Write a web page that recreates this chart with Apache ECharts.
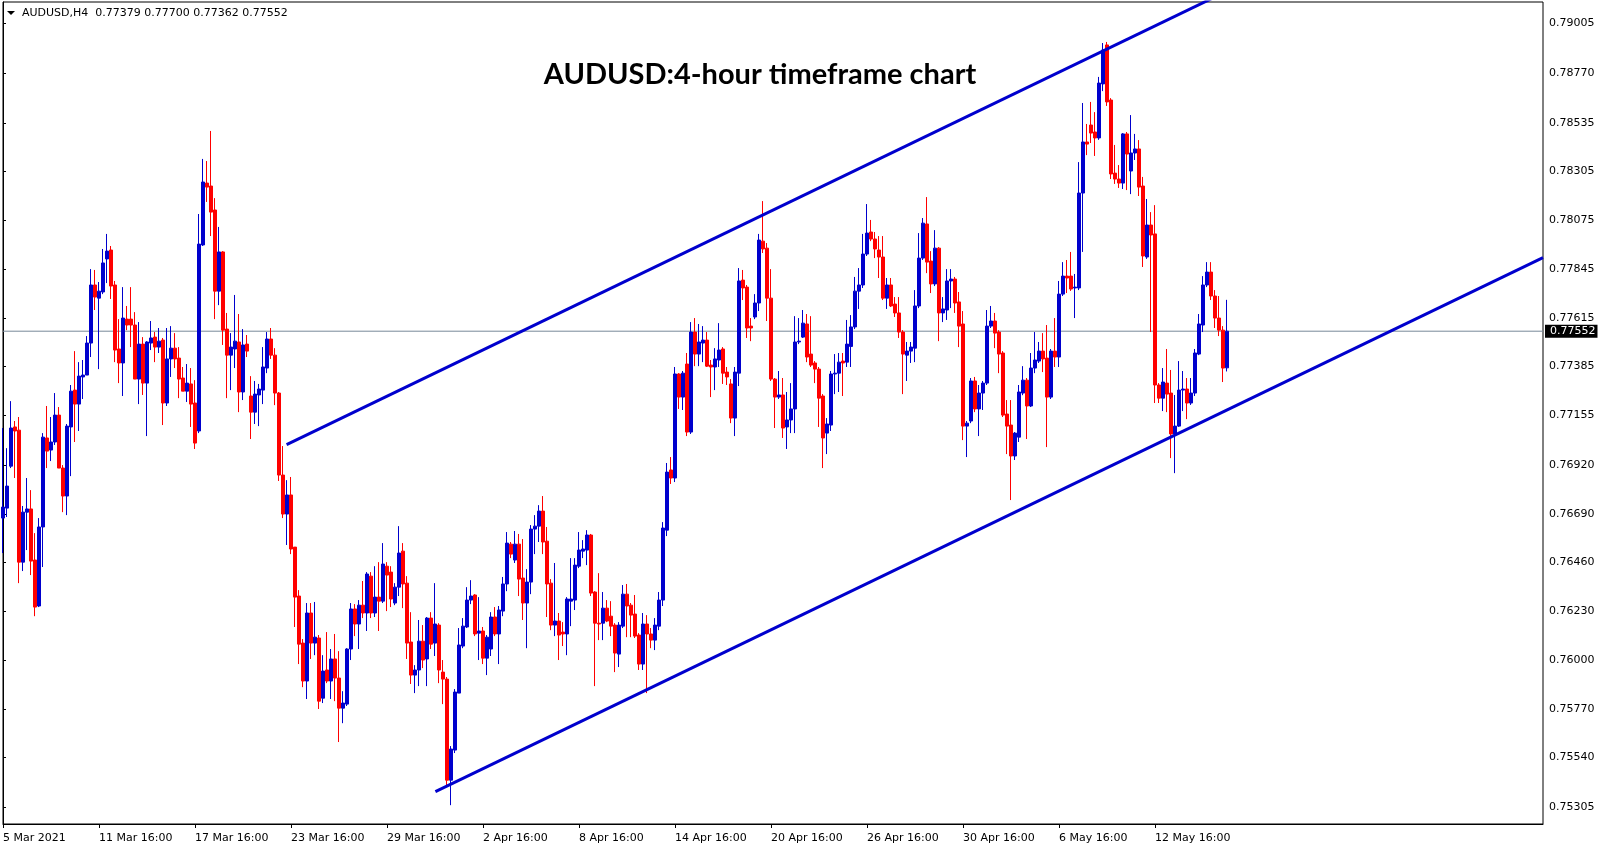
<!DOCTYPE html>
<html><head><meta charset="utf-8">
<script src="https://cdn.jsdelivr.net/npm/echarts@6/dist/echarts.min.js"></script>
<style>html,body{margin:0;padding:0;background:#fff;}#c{width:1607px;height:850px;}</style>
</head><body><div id="c"></div>
<script>
const symbolName = 'AUDUSD,H4';
const chartTitle = 'AUDUSD:4-hour timeframe chart';
const barSlots = 386;
const tickStep = 24;
const tickLabels = ['5 Mar 2021','11 Mar 16:00','17 Mar 16:00','23 Mar 16:00','29 Mar 16:00','2 Apr 16:00','8 Apr 16:00','14 Apr 16:00','20 Apr 16:00','26 Apr 16:00','30 Apr 16:00','6 May 16:00','12 May 16:00'];
const priceTicks = [0.75305,0.75540,0.75770,0.76000,0.76230,0.76460,0.76690,0.76920,0.77155,0.77385,0.77615,0.77845,0.78075,0.78305,0.78535,0.78770,0.79005];
const currentPrice = 0.77552;

const openP = [0.76670,0.76717,0.76915,0.77100,0.77085,0.76462,0.76698,0.76713,0.76472,0.76255,
0.76628,0.77048,0.76991,0.77029,0.77156,0.76906,0.76774,0.77100,0.77274,0.77208,
0.77336,0.77345,0.77496,0.77770,0.77708,0.77737,0.77893,0.77935,0.77770,0.77468,
0.77402,0.77609,0.77609,0.77581,0.77326,0.77491,0.77307,0.77496,0.77524,0.77477,
0.77510,0.77213,0.77421,0.77472,0.77425,0.77331,0.77269,0.77303,0.77213,0.77081,
0.77959,0.78251,0.78237,0.78124,0.77741,0.77926,0.77562,0.77439,0.77468,0.77501,
0.77265,0.77491,0.77246,0.77170,0.77251,0.77274,0.77378,0.77515,0.77439,0.77260,
0.76873,0.76689,0.76779,0.76533,0.76302,0.76080,0.75901,0.76222,0.76080,0.76104,
0.75820,0.75953,0.75901,0.76005,0.75915,0.75773,0.75792,0.76052,0.76241,0.76170,
0.76259,0.76222,0.76396,0.76222,0.76297,0.76278,0.76443,0.76415,0.76269,0.76344,
0.76514,0.76363,0.76085,0.75929,0.75953,0.76089,0.76005,0.76198,0.76080,0.76165,
0.75943,0.75910,0.75433,0.75575,0.75844,0.76066,0.76156,0.76283,0.76307,0.76127,
0.76137,0.76009,0.76052,0.76203,0.76123,0.76231,0.76359,0.76547,0.76472,0.76547,
0.76387,0.76269,0.76368,0.76618,0.76632,0.76703,0.76561,0.76363,0.76165,0.76184,
0.76132,0.76123,0.76278,0.76283,0.76443,0.76514,0.76519,0.76590,0.76321,0.76174,
0.76174,0.76245,0.76207,0.76165,0.76028,0.76160,0.76311,0.76259,0.76217,0.76118,
0.75981,0.76170,0.76123,0.76094,0.76160,0.76283,0.76613,0.76897,0.76859,0.77350,
0.77241,0.77397,0.77076,0.77548,0.77444,0.77496,0.77510,0.77392,0.77383,0.77416,
0.77468,0.77359,0.77303,0.77142,0.77354,0.77793,0.77760,0.77576,0.77619,0.77685,
0.77977,0.77944,0.77708,0.77326,0.77241,0.77251,0.77100,0.77133,0.77185,0.77501,
0.77524,0.77586,0.77444,0.77402,0.77373,0.77246,0.77071,0.77109,0.77350,0.77354,
0.77411,0.77406,0.77480,0.77572,0.77741,0.77770,0.77916,0.78020,0.77987,0.77935,
0.77902,0.77708,0.77770,0.77680,0.77638,0.77548,0.77439,0.77458,0.77472,0.77671,
0.77897,0.78058,0.77883,0.77775,0.77944,0.77638,0.77652,0.77789,0.77798,0.77690,
0.77586,0.77104,0.77128,0.77317,0.77185,0.77260,0.77307,0.77576,0.77600,0.77548,
0.77449,0.77161,0.77109,0.76963,0.77052,0.77260,0.77321,0.77199,0.77378,0.77411,
0.77458,0.77425,0.77241,0.77458,0.77430,0.77727,0.77812,0.77812,0.77756,0.77756,
0.78204,0.78445,0.78525,0.78492,0.78464,0.78719,0.78903,0.78643,0.78298,0.78270,
0.78251,0.78483,0.78308,0.78393,0.78412,0.78237,0.77902,0.78053,0.78011,0.77298,
0.77236,0.77307,0.77260,0.77067,0.77104,0.77274,0.77279,0.77213,0.77260,0.77444,
0.77581,0.77770,0.77831,0.77718,0.77614,0.77557,0.77379];

const closeP = [0.76722,0.76821,0.77095,0.77081,0.76462,0.76698,0.76713,0.76467,0.76250,0.76628,
0.77052,0.76986,0.77029,0.77156,0.76906,0.76774,0.77104,0.77269,0.77208,0.77340,
0.77345,0.77496,0.77770,0.77713,0.77741,0.77874,0.77930,0.77765,0.77463,0.77402,
0.77614,0.77581,0.77581,0.77326,0.77491,0.77307,0.77501,0.77520,0.77477,0.77505,
0.77213,0.77421,0.77472,0.77421,0.77326,0.77269,0.77307,0.77208,0.77024,0.77963,
0.78256,0.78232,0.78114,0.77741,0.77926,0.77557,0.77439,0.77477,0.77505,0.77265,
0.77487,0.77458,0.77170,0.77255,0.77279,0.77383,0.77515,0.77439,0.77260,0.76873,
0.76689,0.76779,0.76524,0.76297,0.76075,0.75901,0.76222,0.76080,0.76108,0.75806,
0.75948,0.75901,0.76005,0.75915,0.75773,0.75797,0.76052,0.76241,0.76170,0.76259,
0.76222,0.76406,0.76222,0.76297,0.76278,0.76453,0.76401,0.76288,0.76344,0.76505,
0.76359,0.76080,0.75929,0.75953,0.76089,0.76000,0.76198,0.76075,0.76170,0.75953,
0.75910,0.75433,0.75580,0.75849,0.76071,0.76160,0.76283,0.76302,0.76123,0.76137,
0.76009,0.76108,0.76203,0.76123,0.76236,0.76359,0.76552,0.76500,0.76547,0.76382,
0.76269,0.76368,0.76618,0.76632,0.76703,0.76557,0.76359,0.76165,0.76184,0.76118,
0.76123,0.76288,0.76288,0.76448,0.76519,0.76524,0.76590,0.76316,0.76174,0.76170,
0.76245,0.76184,0.76160,0.76033,0.76165,0.76311,0.76255,0.76212,0.76113,0.75981,
0.76170,0.76123,0.76094,0.76165,0.76283,0.76623,0.76887,0.76859,0.77350,0.77241,
0.77354,0.77076,0.77548,0.77444,0.77501,0.77510,0.77387,0.77383,0.77421,0.77463,
0.77354,0.77336,0.77142,0.77359,0.77789,0.77756,0.77567,0.77567,0.77685,0.77982,
0.77940,0.77708,0.77326,0.77241,0.77251,0.77095,0.77133,0.77185,0.77501,0.77505,
0.77590,0.77430,0.77392,0.77373,0.77236,0.77048,0.77114,0.77350,0.77354,0.77406,
0.77402,0.77491,0.77572,0.77741,0.77770,0.77916,0.78015,0.77987,0.77940,0.77902,
0.77708,0.77770,0.77671,0.77638,0.77548,0.77444,0.77458,0.77477,0.77671,0.77897,
0.78062,0.77878,0.77775,0.77944,0.77638,0.77657,0.77789,0.77798,0.77685,0.77576,
0.77104,0.77118,0.77317,0.77185,0.77260,0.77307,0.77576,0.77600,0.77543,0.77444,
0.77156,0.77104,0.76963,0.77071,0.77265,0.77321,0.77199,0.77378,0.77416,0.77458,
0.77421,0.77241,0.77458,0.77430,0.77727,0.77812,0.77803,0.77751,0.77760,0.78204,
0.78445,0.78435,0.78487,0.78464,0.78723,0.78879,0.78634,0.78294,0.78270,0.78251,
0.78483,0.78388,0.78393,0.78412,0.78232,0.77907,0.78053,0.78006,0.77298,0.77236,
0.77312,0.77255,0.77067,0.77104,0.77274,0.77279,0.77213,0.77260,0.77449,0.77586,
0.77770,0.77831,0.77718,0.77614,0.77557,0.77378,0.77552];

const highP = [0.77095,0.77000,0.77222,0.77128,0.77147,0.76727,0.76859,0.76802,0.76599,0.76670,
0.77071,0.77199,0.77147,0.77260,0.77194,0.76920,0.77114,0.77298,0.77458,0.77406,
0.77416,0.77529,0.77845,0.77841,0.77784,0.77940,0.78011,0.77954,0.77789,0.77609,
0.77760,0.77671,0.77760,0.77642,0.77595,0.77524,0.77505,0.77600,0.77548,0.77567,
0.77520,0.77567,0.77576,0.77543,0.77477,0.77383,0.77397,0.77378,0.77321,0.78105,
0.78365,0.78355,0.78497,0.78180,0.78044,0.77930,0.77638,0.77543,0.77723,0.77633,
0.77562,0.77534,0.77340,0.77317,0.77303,0.77477,0.77548,0.77567,0.77472,0.77265,
0.77010,0.76849,0.76864,0.76533,0.76330,0.76099,0.76269,0.76269,0.76274,0.76118,
0.76023,0.76132,0.76052,0.76123,0.76042,0.75853,0.76056,0.76269,0.76264,0.76283,
0.76373,0.76415,0.76415,0.76443,0.76462,0.76552,0.76462,0.76443,0.76363,0.76632,
0.76552,0.76396,0.76226,0.75976,0.76189,0.76165,0.76203,0.76226,0.76363,0.76174,
0.76000,0.75920,0.75594,0.75863,0.76151,0.76198,0.76344,0.76377,0.76311,0.76297,
0.76156,0.76118,0.76226,0.76250,0.76255,0.76392,0.76604,0.76557,0.76609,0.76595,
0.76571,0.76429,0.76637,0.76684,0.76731,0.76774,0.76628,0.76382,0.76458,0.76222,
0.76179,0.76297,0.76481,0.76481,0.76604,0.76566,0.76613,0.76595,0.76325,0.76410,
0.76321,0.76283,0.76278,0.76174,0.76179,0.76354,0.76359,0.76269,0.76307,0.76127,
0.76222,0.76212,0.76151,0.76198,0.76321,0.76651,0.76930,0.76958,0.77383,0.77354,
0.77364,0.77449,0.77595,0.77614,0.77586,0.77576,0.77548,0.77416,0.77472,0.77590,
0.77477,0.77383,0.77326,0.77383,0.77850,0.77841,0.77770,0.77614,0.77727,0.78011,
0.78166,0.77968,0.77845,0.77331,0.77364,0.77331,0.77265,0.77307,0.77623,0.77614,
0.77652,0.77633,0.77623,0.77411,0.77383,0.77255,0.77142,0.77364,0.77444,0.77449,
0.77449,0.77605,0.77628,0.77808,0.77850,0.78011,0.78152,0.78077,0.78020,0.78001,
0.78001,0.77803,0.77803,0.77713,0.77713,0.77557,0.77501,0.77501,0.77746,0.78015,
0.78086,0.78185,0.77930,0.78029,0.77949,0.77713,0.77845,0.77845,0.77808,0.77737,
0.77647,0.77128,0.77331,0.77336,0.77298,0.77317,0.77652,0.77671,0.77638,0.77557,
0.77458,0.77227,0.77227,0.77076,0.77298,0.77387,0.77331,0.77449,0.77548,0.77501,
0.77543,0.77581,0.77468,0.77614,0.77789,0.77878,0.77888,0.77926,0.77822,0.78350,
0.78629,0.78530,0.78634,0.78586,0.78752,0.78912,0.78917,0.78652,0.78431,0.78336,
0.78487,0.78492,0.78572,0.78483,0.78454,0.78280,0.78176,0.78114,0.78147,0.77307,
0.77378,0.77468,0.77369,0.77251,0.77411,0.77364,0.77331,0.77331,0.77468,0.77633,
0.77812,0.77878,0.77878,0.77746,0.77718,0.77576,0.77700];

const lowP = [0.76505,0.76675,0.76906,0.76859,0.76363,0.76420,0.76519,0.76401,0.76207,0.76250,
0.76439,0.76906,0.76939,0.77015,0.76906,0.76698,0.76684,0.76868,0.77029,0.77081,
0.77232,0.77345,0.77430,0.77652,0.77373,0.77727,0.77779,0.77704,0.77406,0.77307,
0.77246,0.77557,0.77477,0.77326,0.77208,0.77251,0.77057,0.77463,0.77406,0.77449,
0.77109,0.77199,0.77336,0.77378,0.77236,0.77269,0.77218,0.77100,0.76996,0.77071,
0.77954,0.78162,0.78001,0.77609,0.77675,0.77487,0.77236,0.77274,0.77378,0.77170,
0.77227,0.77430,0.77043,0.77114,0.77104,0.77208,0.77354,0.77421,0.77203,0.76845,
0.76670,0.76543,0.76500,0.76156,0.75981,0.75872,0.75816,0.76005,0.76023,0.75769,
0.75797,0.75891,0.75816,0.75806,0.75613,0.75702,0.75783,0.76000,0.76113,0.76052,
0.76198,0.76137,0.76198,0.76203,0.76137,0.76269,0.76231,0.76250,0.76259,0.76302,
0.76245,0.76005,0.75887,0.75844,0.75877,0.75962,0.75877,0.76052,0.76019,0.75891,
0.75792,0.75405,0.75315,0.75561,0.75844,0.76056,0.76151,0.76264,0.76113,0.76000,
0.75981,0.75929,0.76019,0.76113,0.75981,0.76207,0.76325,0.76481,0.76458,0.76302,
0.76189,0.76056,0.76311,0.76500,0.76557,0.76500,0.76203,0.76141,0.76113,0.76000,
0.76066,0.76023,0.76160,0.76236,0.76434,0.76481,0.76448,0.76302,0.75877,0.76094,
0.76094,0.76179,0.76113,0.75943,0.75967,0.76151,0.76108,0.76108,0.76104,0.75953,
0.75953,0.75844,0.76056,0.76047,0.76141,0.76255,0.76585,0.76831,0.76840,0.77185,
0.77180,0.77057,0.77067,0.77387,0.77387,0.77406,0.77383,0.77241,0.77274,0.77383,
0.77303,0.77298,0.77118,0.77057,0.77293,0.77699,0.77520,0.77505,0.77609,0.77647,
0.77921,0.77600,0.77317,0.77095,0.77232,0.77048,0.76996,0.77071,0.77071,0.77491,
0.77520,0.77406,0.77383,0.77307,0.77100,0.76906,0.76972,0.77081,0.77255,0.77265,
0.77246,0.77383,0.77383,0.77562,0.77657,0.77756,0.77907,0.77977,0.77897,0.77803,
0.77699,0.77657,0.77666,0.77619,0.77520,0.77255,0.77317,0.77402,0.77406,0.77661,
0.77888,0.77826,0.77732,0.77765,0.77505,0.77595,0.77605,0.77661,0.77638,0.77477,
0.77038,0.76958,0.77118,0.77170,0.77057,0.77180,0.77298,0.77567,0.77472,0.77354,
0.77147,0.76972,0.76755,0.76944,0.77029,0.77250,0.77043,0.77194,0.77354,0.77402,
0.77359,0.77005,0.77232,0.77383,0.77383,0.77718,0.77732,0.77742,0.77614,0.77746,
0.77926,0.78383,0.78440,0.78379,0.78455,0.78685,0.78615,0.78270,0.78247,0.78228,
0.78223,0.78218,0.78199,0.78360,0.78190,0.77855,0.77893,0.77548,0.77213,0.77213,
0.77175,0.77170,0.76953,0.76882,0.77100,0.77175,0.77137,0.77204,0.77246,0.77439,
0.77548,0.77760,0.77699,0.77567,0.77529,0.77312,0.77362];

// trend channel anchors: [bar index, price]
const upperChannel = [[70.9, 0.77017], [310, 0.79193]];
const lowerChannel = [[108.1, 0.75379], [385, 0.77899]];

const BLUE = '#0000CD', RED = '#FF0000';
const AXIS_FONT = 'DejaVu Sans';
const categories = Array.from({length: barSlots}, (_, i) => String(i));
const candles = openP.map((o, i) => [o, closeP[i], lowP[i], highP[i]]);
const tickIndex = tickLabels.map((_, k) => k * tickStep);
const n = openP.length - 1;
const headerText = symbolName + '  ' + [openP[n], highP[n], lowP[n], closeP[n]].map(v => v.toFixed(5)).join(' ');
const priceLine = [[0, currentPrice], [barSlots - 1, currentPrice]];

const chart = echarts.init(document.getElementById('c'), null, {renderer: 'canvas'});
chart.setOption({
  animation: false,
  backgroundColor: '#ffffff',
  grid: {left: 2, top: 2, width: 1541, height: 822, show: true, borderColor: '#000', borderWidth: 1, backgroundColor: 'transparent', containLabel: false},
  xAxis: [{
    type: 'category', data: categories, boundaryGap: false, position: 'bottom',
    axisLine: {show: true, lineStyle: {color: '#000', width: 1}},
    axisTick: {show: false}, axisLabel: {show: false}, splitLine: {show: false}
  }, {
    type: 'value', min: 0, max: barSlots - 1, position: 'bottom',
    axisLine: {show: false},
    axisTick: {show: true, length: 4, customValues: tickIndex, lineStyle: {color: '#000'}},
    axisLabel: {show: true, customValues: tickIndex, hideOverlap: false, showMinLabel: true, showMaxLabel: true,
      formatter: (v) => tickLabels[Math.round(v / tickStep)] || '',
      align: 'left', margin: 9, fontFamily: AXIS_FONT, fontSize: 11, color: '#000'},
    splitLine: {show: false}
  }],
  yAxis: {
    type: 'value', position: 'right', min: 0.752262, max: 0.791056,
    axisLine: {show: true, lineStyle: {color: '#000', width: 1}},
    axisTick: {show: true, length: 3, customValues: priceTicks, lineStyle: {color: '#000'}},
    axisLabel: {show: true, customValues: priceTicks, formatter: (v) => v.toFixed(5), margin: 6,
      fontFamily: AXIS_FONT, fontSize: 11, color: '#000'},
    splitLine: {show: false}
  },
  series: [{
    type: 'line', xAxisIndex: 1, yAxisIndex: 0, data: priceLine, showSymbol: false, clip: false, silent: true,
    lineStyle: {color: '#778899', width: 1}, z: 1,
    endLabel: {show: true, formatter: () => currentPrice.toFixed(5), distance: 2,
      backgroundColor: '#000', color: '#fff', padding: [1, 2, 1, 5], fontFamily: AXIS_FONT, fontSize: 11}
  }, {
    type: 'candlestick', xAxisIndex: 0, yAxisIndex: 0, data: candles, barWidth: 3, clip: true,
    itemStyle: {color: BLUE, color0: RED, borderColor: BLUE, borderColor0: RED, borderWidth: 1},
    z: 2
  }, {
    type: 'line', xAxisIndex: 1, yAxisIndex: 0, data: upperChannel, showSymbol: false, clip: true, silent: true,
    lineStyle: {color: BLUE, width: 3}, z: 3
  }, {
    type: 'line', xAxisIndex: 1, yAxisIndex: 0, data: lowerChannel, showSymbol: false, clip: true, silent: true,
    lineStyle: {color: BLUE, width: 3}, z: 3
  }],
  graphic: [
    {type: 'polygon', shape: {points: [[7, 11], [15, 11], [11, 15]]}, style: {fill: '#000'}},
    {type: 'text', x: 22, y: 13, style: {text: headerText, fontFamily: AXIS_FONT, fontSize: 11, fill: '#000', verticalAlign: 'middle', align: 'left'}},
    {type: 'text', x: 760, y: 75, style: {text: chartTitle, fontFamily: 'Lato', fontWeight: 'bold', fontSize: 29, fill: '#000', align: 'center', verticalAlign: 'middle'}}
  ]
});
</script></body></html>
